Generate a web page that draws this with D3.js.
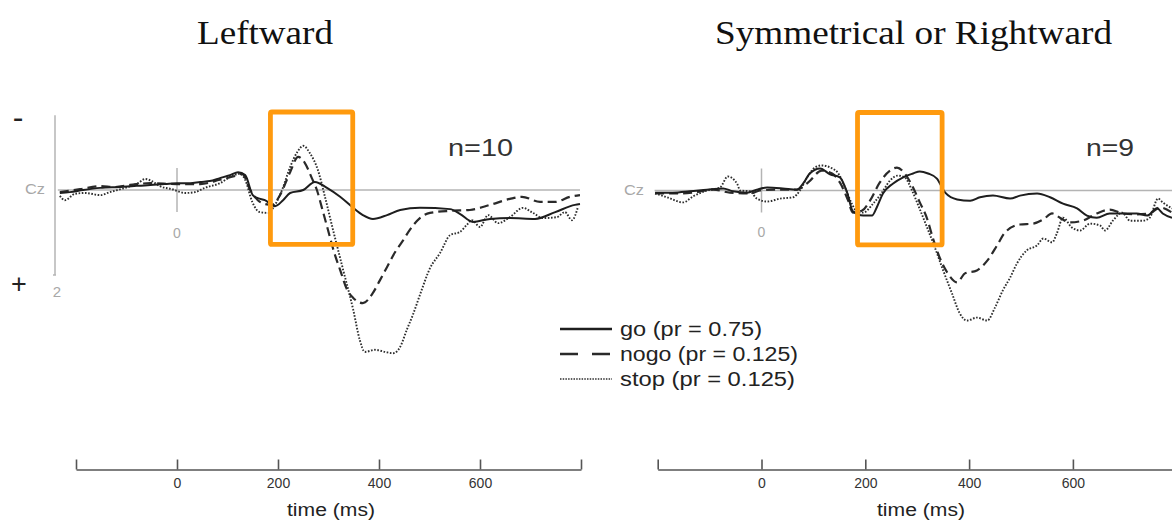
<!DOCTYPE html>
<html><head><meta charset="utf-8">
<script src="https://cdn.jsdelivr.net/npm/d3@7"></script>
<style>
html,body{margin:0;padding:0;background:#fff;}
svg{display:block;}
text{font-family:"Liberation Sans",Arial,sans-serif;}
</style></head>
<body>
<svg id="c" width="1172" height="521"></svg>
<script>
// ---------- DATA ----------
const panelTitles = ["Leftward", "Symmetrical or Rightward"];
const panelN = ["n=10", "n=9"];
const timeTicks = [-200, 0, 200, 400, 600, 800];
const timeTickLabels = ["", "0", "200", "400", "600", ""];
const seriesNames = ["go (pr = 0.75)", "nogo (pr = 0.125)", "stop (pr = 0.125)"];
const boxWindowMs = [185, 348];
const boxWindowUv = [-1.835, 1.28];
const yAxisExtent = [-1.76, 2];

// [time ms, amplitude µV] (negative up)
const leftGo = [[-232,0.07],[-212,0.05],[-186,0],[-152,-0.05],[-113,-0.07],[-53,-0.12],[-24,-0.14],[0,-0.16],[26,-0.16],[46,-0.19],[65,-0.21],[85,-0.28],[105,-0.35],[121,-0.42],[135,-0.35],[150,0.12],[160,0.19],[174,0.24],[194,0.38],[210,0.24],[224,0.07],[250,0],[273,-0.19],[297,-0.05],[323,0.16],[347,0.40],[368,0.59],[388,0.68],[416,0.59],[442,0.47],[481,0.42],[541,0.45],[560,0.56],[586,0.75],[620,0.68],[659,0.66],[709,0.68],[749,0.52],[788,0.35],[798,0.33]];
const leftNogo = [[-232,0.05],[-192,-0.02],[-152,-0.09],[-123,-0.07],[-93,-0.12],[-53,-0.16],[0,-0.14],[46,-0.14],[85,-0.24],[115,-0.33],[129,-0.38],[145,0],[160,0.24],[174,0.33],[188,0.35],[204,0.12],[224,-0.42],[240,-0.78],[253,-0.64],[267,-0.28],[277,0],[287,0.42],[299,0.94],[311,1.46],[323,1.88],[337,2.35],[349,2.54],[368,2.66],[388,2.42],[402,2.12],[416,1.81],[432,1.46],[448,1.18],[461,0.94],[481,0.66],[501,0.54],[541,0.49],[580,0.47],[620,0.35],[659,0.21],[683,0.16],[719,0.28],[749,0.28],[778,0.16],[798,0.12]];
const leftStop = [[-232,0.14],[-222,0.24],[-202,0.09],[-182,0.07],[-152,0.12],[-133,0.05],[-103,-0.05],[-77,-0.16],[-63,-0.26],[-50,-0.21],[-34,-0.09],[-10,-0.02],[16,0.07],[36,0.05],[55,-0.05],[85,-0.16],[109,-0.33],[125,-0.38],[135,-0.24],[149,0.28],[164,0.52],[180,0.54],[194,0.35],[208,0],[224,-0.54],[238,-0.89],[250,-1.04],[263,-0.87],[279,-0.47],[293,0.16],[309,0.94],[329,1.88],[349,2.82],[362,3.53],[372,3.81],[392,3.76],[412,3.81],[428,3.84],[442,3.69],[455,3.29],[467,2.94],[481,2.47],[501,1.84],[521,1.48],[541,1.06],[560,0.99],[574,0.82],[584,0.71],[600,0.87],[616,0.59],[636,0.78],[659,0.64],[685,0.42],[705,0.54],[725,0.66],[752,0.64],[768,0.52],[782,0.71],[794,0.40]];

const rightGo = [[-205,0.05],[-171,0.05],[-138,0.02],[-105,-0.02],[-74,-0.05],[-55,0.02],[-28,0.05],[-9,-0.02],[11,-0.07],[41,-0.05],[68,-0.02],[80,-0.16],[93,-0.40],[113,-0.52],[132,-0.38],[151,-0.31],[165,0.05],[176,0.49],[196,0.59],[213,0.59],[222,0.40],[234,0.07],[253,-0.16],[273,-0.31],[292,-0.40],[305,-0.45],[321,-0.40],[338,-0.28],[354,0.05],[377,0.21],[402,0.24],[421,0.16],[446,0.12],[479,0.19],[498,0.12],[531,0.07],[556,0.16],[581,0.31],[608,0.42],[627,0.59],[646,0.64],[671,0.54],[696,0.54],[723,0.54],[743,0.59],[762,0.42],[773,0.54],[791,0.64]];
const rightNogo = [[-205,0.07],[-157,0.07],[-132,0.05],[-93,-0.02],[-61,0.05],[-22,0.07],[-3,0],[30,-0.02],[68,-0.02],[90,-0.19],[116,-0.47],[136,-0.40],[151,-0.19],[167,0.24],[176,0.52],[194,0.47],[209,0.24],[228,-0.19],[248,-0.47],[261,-0.54],[276,-0.40],[292,-0.07],[305,0.28],[319,0.66],[330,1.11],[344,1.60],[359,1.95],[377,2.16],[392,1.95],[415,1.88],[435,1.65],[454,1.29],[469,0.99],[498,0.80],[523,0.78],[543,0.68],[560,0.54],[575,0.64],[594,0.75],[619,0.71],[646,0.54],[671,0.45],[696,0.54],[723,0.56],[748,0.54],[768,0.40],[791,0.52]];
const rightStop = [[-205,0.07],[-182,0.16],[-151,0.28],[-132,0.14],[-105,0],[-80,-0.07],[-65,-0.33],[-47,-0.16],[-41,0],[-22,0.02],[-9,0.19],[11,0.26],[36,0.19],[61,0.16],[74,0],[88,-0.31],[103,-0.54],[116,-0.59],[136,-0.52],[147,-0.42],[161,-0.07],[174,0.31],[186,0.52],[196,0.52],[215,0.31],[232,0.05],[248,-0.24],[263,-0.35],[276,-0.31],[290,0],[302,0.35],[319,0.87],[334,1.34],[350,1.88],[367,2.42],[382,2.89],[396,3.06],[415,2.99],[435,3.06],[450,2.75],[465,2.35],[479,2.05],[492,1.72],[511,1.41],[531,1.29],[543,1.13],[560,1.22],[569,1.01],[581,0.64],[598,0.87],[614,0.94],[633,0.78],[652,0.82],[662,0.94],[677,0.71],[695,0.52],[710,0.71],[735,0.71],[748,0.64],[764,0.19],[773,0.28],[791,0.42]];

// ---------- STYLE / LAYOUT ----------
const styles = [
  {stroke:"#1e1e1e", width:2.0, dash:null},
  {stroke:"#2a2a2a", width:2.2, dash:"9 5"},
  {stroke:"#2e2e2e", width:1.9, dash:"1.6 1.6"}
];
const orange = "#ff9a0e";
const grey = "#b4b4b4";

const svg = d3.select("#c");

const panels = [
  {title: panelTitles[0], n: panelN[0], series:[leftGo,leftNogo,leftStop],
   x: d3.scaleLinear().domain([-200,800]).range([76,581]),
   y: d3.scaleLinear().domain([0,2]).range([190,275]),
   titleX:197, titleW:136, nX:448, nW:65, czX:35, baseFrom:-236, baseTo:798,
   zeroLblY:238, timeLblX:331, yAxis:true},
  {title: panelTitles[1], n: panelN[1], series:[rightGo,rightNogo,rightStop],
   x: d3.scaleLinear().domain([-200,800]).range([657.7,1176.7]),
   y: d3.scaleLinear().domain([0,2]).range([190.5,275.5]),
   titleX:715, titleW:397, nX:1086, nW:48, czX:634, baseFrom:-206, baseTo:800,
   zeroLblY:237, timeLblX:921, yAxis:false}
];

panels.forEach(p => {
  const g = svg.append("g");
  // title
  g.append("text").attr("x", p.titleX).attr("y", 44)
    .attr("textLength", p.titleW).attr("lengthAdjust","spacingAndGlyphs")
    .style("font-family","'Liberation Serif','Times New Roman',serif")
    .style("font-size","33px").attr("fill","#111").text(p.title);
  // n label
  g.append("text").attr("x", p.nX).attr("y", 156)
    .attr("textLength", p.nW).attr("lengthAdjust","spacingAndGlyphs")
    .style("font-size","24px").attr("fill","#333").text(p.n);
  // baseline (Cz)
  g.append("line").attr("x1", p.x(p.baseFrom)).attr("x2", p.x(p.baseTo))
    .attr("y1", p.y(0)).attr("y2", p.y(0))
    .attr("stroke", grey).attr("stroke-width", 1.5);
  g.append("text").attr("x", p.czX).attr("y", p.y(0)+4).attr("text-anchor","middle")
    .attr("textLength", 20).attr("lengthAdjust","spacingAndGlyphs")
    .style("font-size","14px").attr("fill","#a8a8a8").text("Cz");
  // zero tick
  g.append("line").attr("x1", p.x(0)).attr("x2", p.x(0))
    .attr("y1", p.y(0)-22).attr("y2", p.y(0)+22)
    .attr("stroke", grey).attr("stroke-width", 1.5);
  g.append("text").attr("x", p.x(0)).attr("y", p.zeroLblY).attr("text-anchor","middle")
    .style("font-size","14px").attr("fill","#a8a8a8").text("0");
  // y axis (left only)
  if (p.yAxis) {
    const ax = 55;
    g.append("line").attr("x1", ax).attr("x2", ax)
      .attr("y1", p.y(yAxisExtent[0])).attr("y2", p.y(yAxisExtent[1]))
      .attr("stroke", grey).attr("stroke-width", 1.5);
    g.append("line").attr("x1", ax-2).attr("x2", ax+1)
      .attr("y1", p.y(yAxisExtent[1])).attr("y2", p.y(yAxisExtent[1]))
      .attr("stroke", grey).attr("stroke-width", 1.5);
    g.append("text").attr("x", ax+2).attr("y", p.y(yAxisExtent[1])+22).attr("text-anchor","middle")
      .style("font-size","15px").attr("fill","#a8a8a8").text(String(yAxisExtent[1]));
    g.append("text").attr("x", 18).attr("y", 128).attr("text-anchor","middle")
      .style("font-size","32px").attr("fill","#222").text("-");
    g.append("text").attr("x", 19).attr("y", 293).attr("text-anchor","middle")
      .style("font-size","27px").attr("fill","#222").text("+");
  }
  // curves
  const line = d3.line().x(d => p.x(d[0])).y(d => p.y(d[1])).curve(d3.curveMonotoneX);
  [2,1,0].forEach(i => {
    g.append("path").datum(p.series[i]).attr("d", line)
      .attr("fill","none").attr("stroke", styles[i].stroke)
      .attr("stroke-width", styles[i].width)
      .attr("stroke-dasharray", styles[i].dash)
      .attr("stroke-linejoin","round");
  });
  // orange box
  g.append("rect")
    .attr("x", p.x(boxWindowMs[0])).attr("y", p.y(boxWindowUv[0]))
    .attr("width", p.x(boxWindowMs[1]) - p.x(boxWindowMs[0]))
    .attr("height", p.y(boxWindowUv[1]) - p.y(boxWindowUv[0]))
    .attr("rx", 1.5)
    .attr("fill","none").attr("stroke", orange).attr("stroke-width", 4.8);
  // time axis
  const axis = d3.axisBottom(p.x).tickValues(timeTicks)
    .tickFormat((d,i) => timeTickLabels[i]).tickSize(-10).tickSizeOuter(0).tickPadding(9);
  const ag = g.append("g").attr("transform","translate(0,469.5)").call(axis);
  ag.select(".domain").attr("stroke","#555").attr("stroke-width",1.6);
  ag.selectAll(".tick line").attr("stroke","#555").attr("stroke-width",1.6);
  ag.selectAll(".tick text").style("font-size","14px").style("font-family","'Liberation Sans',Arial,sans-serif")
    .attr("fill","#333");
  g.append("text").attr("x", p.timeLblX).attr("y", 516).attr("text-anchor","middle")
    .attr("textLength", 88).attr("lengthAdjust","spacingAndGlyphs")
    .style("font-size","18px").attr("fill","#222").text("time (ms)");
});

// legend
const legY = [329, 354, 379];
const legTextW = [142, 178, 175];
const lg = svg.append("g");
seriesNames.forEach((name, i) => {
  lg.append("line").attr("x1", 560).attr("x2", 612).attr("y1", legY[i]).attr("y2", legY[i])
    .attr("stroke", styles[i].stroke)
    .attr("stroke-width", i === 0 ? 2.4 : (i === 1 ? 2.6 : 1.4))
    .attr("stroke-dasharray", i === 1 ? "18 14" : (i === 2 ? "1.5 1.2" : null));
  lg.append("text").attr("x", 620).attr("y", legY[i] + 7)
    .attr("textLength", legTextW[i]).attr("lengthAdjust","spacingAndGlyphs")
    .style("font-size","20px").attr("fill","#222").text(name);
});
</script>
</body></html>
